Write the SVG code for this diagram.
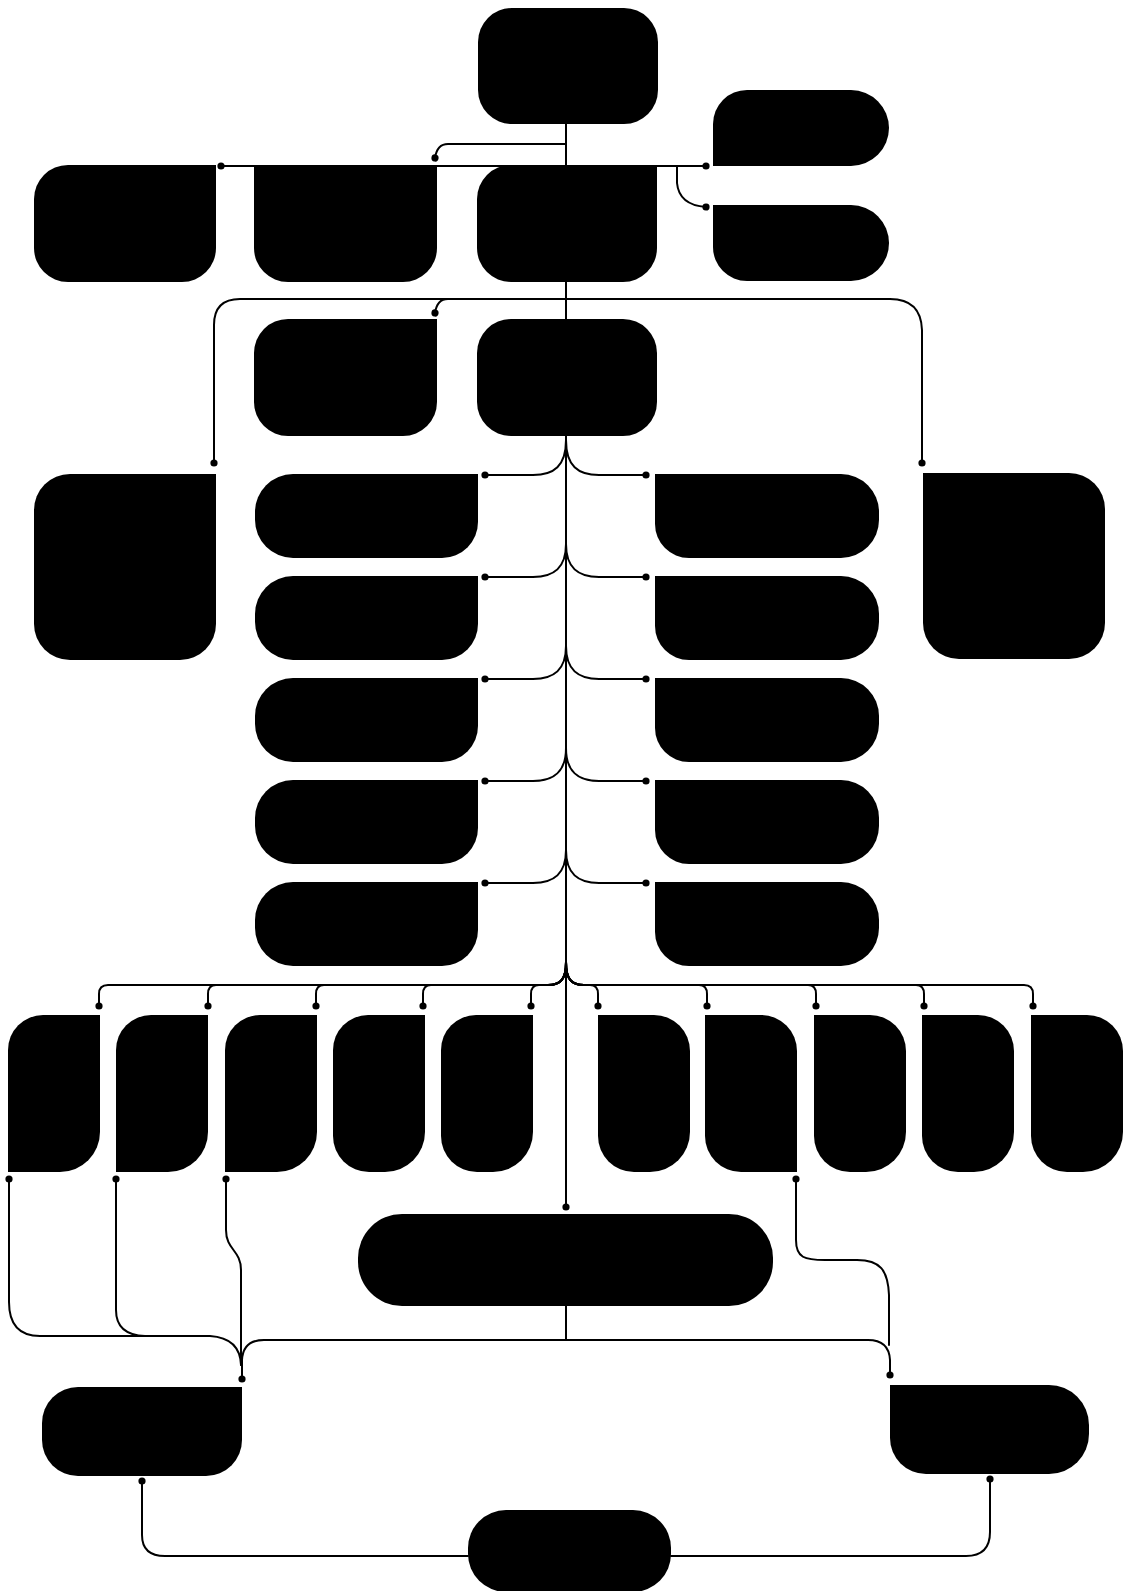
<svg xmlns="http://www.w3.org/2000/svg" xmlns:xlink="http://www.w3.org/1999/xlink" width="1125" height="1591" viewBox="0 0 1125 1591">
<style>
.node{fill:#000;stroke:none}
.edge{fill:none;stroke:#000;stroke-width:2;stroke-linecap:round;stroke-linejoin:round}
.end{marker-end:url(#dot)}
.start{marker-start:url(#dot)}
</style>
<defs>
<marker id="dot" viewBox="-5 -5 10 10" markerWidth="9" markerHeight="9" markerUnits="userSpaceOnUse" refX="0" refY="0" orient="auto"><circle r="4" fill="#000"/></marker>
<path id="lc" d="M38,0 H223 V48 A36,36 0 0 1 187,84 H38 A38,38 0 0 1 0,46 V38 A38,38 0 0 1 38,0 Z"/>
<path id="rc" d="M0,0 H186 A38,38 0 0 1 224,38 V46 A38,38 0 0 1 186,84 H34 A34,34 0 0 1 0,50 Z"/>
<path id="bL" d="M35,0 H92 V117 A40,40 0 0 1 52,157 H0 V35 A35,35 0 0 1 35,0 Z"/>
<path id="bL2" d="M35,0 H92 V117 A40,40 0 0 1 52,157 H36 A36,36 0 0 1 0,121 V35 A35,35 0 0 1 35,0 Z"/>
<path id="bR" d="M0,0 H56 A36,36 0 0 1 92,36 V117 A40,40 0 0 1 52,157 H36 A36,36 0 0 1 0,121 Z"/>
<path id="bR7" d="M0,0 H56 A36,36 0 0 1 92,36 V157 H36 A36,36 0 0 1 0,121 Z"/>
</defs>
<rect width="1125" height="1591" fill="#fff"/>
<g id="connectors">
<path class="edge end" d="M566,124 V1207"/>
<path class="edge end" d="M566,144 H448 Q437,144 435,158"/>
<path class="edge end" d="M566,166 H221"/>
<path class="edge end" d="M566,166 H706"/>
<path class="edge end" d="M677,166 V183 Q679,205 706,207"/>
<path class="edge end" d="M566,299 H240 Q214,299 214,325 V463"/>
<path class="edge end" d="M566,299 H448 Q437,299 435,313"/>
<path class="edge end" d="M566,299 H890 Q921,299 922,330 V463"/>
<path class="edge end" d="M566,440 C566,466 554,475 533,475 H485"/>
<path class="edge end" d="M566,440 C566,466 578,475 599,475 H646"/>
<path class="edge end" d="M566,544 C566,568 554,577 533,577 H485"/>
<path class="edge end" d="M566,544 C566,568 578,577 599,577 H646"/>
<path class="edge end" d="M566,646 C566,670 554,679 533,679 H485"/>
<path class="edge end" d="M566,646 C566,670 578,679 599,679 H646"/>
<path class="edge end" d="M566,748 C566,772 554,781 533,781 H485"/>
<path class="edge end" d="M566,748 C566,772 578,781 599,781 H646"/>
<path class="edge end" d="M566,850 C566,874 554,883 533,883 H485"/>
<path class="edge end" d="M566,850 C566,874 578,883 599,883 H646"/>
<path class="edge end" d="M566,962 C566,980 560,985 548,985 H108 Q99,985 99,994 V1006"/>
<path class="edge end" d="M566,962 C566,980 560,985 548,985 H216 Q208,985 208,994 V1006"/>
<path class="edge end" d="M566,962 C566,980 560,985 548,985 H324 Q316,985 316,994 V1006"/>
<path class="edge end" d="M566,962 C566,980 560,985 548,985 H431 Q423,985 423,994 V1006"/>
<path class="edge end" d="M566,962 C566,980 560,985 548,985 H539 Q531,985 531,994 V1006"/>
<path class="edge end" d="M566,962 C566,980 572,985 584,985 H590 Q598,985 598,994 V1006"/>
<path class="edge end" d="M566,962 C566,980 572,985 584,985 H699 Q707,985 707,994 V1006"/>
<path class="edge end" d="M566,962 C566,980 572,985 584,985 H808 Q816,985 816,994 V1006"/>
<path class="edge end" d="M566,962 C566,980 572,985 584,985 H916 Q924,985 924,994 V1006"/>
<path class="edge end" d="M566,962 C566,980 572,985 584,985 H1024 Q1033,985 1033,994 V1006"/>
<path class="edge end" d="M566,1306 V1340 H264 Q243,1340 242,1360 V1379"/>
<path class="edge end" d="M566,1340 H868 Q889,1340 890,1360 V1375"/>
<path class="edge start" d="M9,1179 V1302 Q9,1336 40,1336 H210 Q240,1338 241,1365"/>
<path class="edge start" d="M116,1179 V1310 Q116,1335 145,1336"/>
<path class="edge start" d="M226,1179 V1230 C226,1250 241,1250 241,1270 V1365"/>
<path class="edge start" d="M796,1179 V1240 C796,1258 805,1260 825,1260 H857 C880,1260 888,1270 889,1295 V1345"/>
<path class="edge end" d="M468,1556 H165 Q142,1556 142,1535 V1481"/>
<path class="edge end" d="M671,1556 H966 Q990,1556 990,1532 V1479"/>
</g>
<g id="n-top"><rect class="node" x="478" y="8" width="180" height="116" rx="34"/></g>
<g id="n-a"><path class="node" d="M747,90 H851 A38,38 0 0 1 889,128 A38,38 0 0 1 851,166 H713 V124 A34,34 0 0 1 747,90 Z"/></g>
<g id="n-b"><path class="node" d="M713,205 H851 A38,38 0 0 1 889,243 A38,38 0 0 1 851,281 H747 A34,34 0 0 1 713,247 Z"/></g>
<g id="n-l1"><path class="node" d="M68,165 H216 V248 A34,34 0 0 1 182,282 H68 A34,34 0 0 1 34,248 V199 A34,34 0 0 1 68,165 Z"/></g>
<g id="n-l2"><path class="node" d="M254,165 H437 V248 A34,34 0 0 1 403,282 H288 A34,34 0 0 1 254,248 Z"/></g>
<g id="n-c2"><path class="node" d="M511,165 H657 V248 A34,34 0 0 1 623,282 H511 A34,34 0 0 1 477,248 V199 A34,34 0 0 1 511,165 Z"/></g>
<g id="n-l3"><path class="node" d="M288,319 H437 V402 A34,34 0 0 1 403,436 H288 A34,34 0 0 1 254,402 V353 A34,34 0 0 1 288,319 Z"/></g>
<g id="n-c3"><rect class="node" x="477" y="319" width="180" height="117" rx="34"/></g>
<g id="n-ltall"><path class="node" d="M70,474 H216 V624 A36,36 0 0 1 180,660 H70 A36,36 0 0 1 34,624 V510 A36,36 0 0 1 70,474 Z"/></g>
<g id="n-rtall"><path class="node" d="M923,473 H1069 A36,36 0 0 1 1105,509 V623 A36,36 0 0 1 1069,659 H959 A36,36 0 0 1 923,623 Z"/></g>
<g id="n-lc1"><use class="node" href="#lc" x="255" y="474"/></g>
<g id="n-lc2"><use class="node" href="#lc" x="255" y="576"/></g>
<g id="n-lc3"><use class="node" href="#lc" x="255" y="678"/></g>
<g id="n-lc4"><use class="node" href="#lc" x="255" y="780"/></g>
<g id="n-lc5"><use class="node" href="#lc" x="255" y="882"/></g>
<g id="n-rc1"><use class="node" href="#rc" x="655" y="474"/></g>
<g id="n-rc2"><use class="node" href="#rc" x="655" y="576"/></g>
<g id="n-rc3"><use class="node" href="#rc" x="655" y="678"/></g>
<g id="n-rc4"><use class="node" href="#rc" x="655" y="780"/></g>
<g id="n-rc5"><use class="node" href="#rc" x="655" y="882"/></g>
<g id="n-b1"><use class="node" href="#bL" x="8" y="1015"/></g>
<g id="n-b2"><use class="node" href="#bL" x="116" y="1015"/></g>
<g id="n-b3"><use class="node" href="#bL" x="225" y="1015"/></g>
<g id="n-b4"><use class="node" href="#bL2" x="333" y="1015"/></g>
<g id="n-b5"><use class="node" href="#bL2" x="441" y="1015"/></g>
<g id="n-b6"><use class="node" href="#bR" x="598" y="1015"/></g>
<g id="n-b7"><use class="node" href="#bR7" x="705" y="1015"/></g>
<g id="n-b8"><use class="node" href="#bR" x="814" y="1015"/></g>
<g id="n-b9"><use class="node" href="#bR" x="922" y="1015"/></g>
<g id="n-b10"><use class="node" href="#bR" x="1031" y="1015"/></g>
<g id="n-mid"><rect class="node" x="358" y="1214" width="415" height="92" rx="44"/></g>
<g id="n-bl"><path class="node" d="M78,1387 H242 V1440 A36,36 0 0 1 206,1476 H78 A36,36 0 0 1 42,1440 V1423 A36,36 0 0 1 78,1387 Z"/></g>
<g id="n-br"><path class="node" d="M890,1385 H1049 A40,40 0 0 1 1089,1425 V1434 A40,40 0 0 1 1049,1474 H926 A36,36 0 0 1 890,1438 Z"/></g>
<g id="n-bottom"><rect class="node" x="468" y="1510" width="203" height="82" rx="38"/></g>
</svg>
